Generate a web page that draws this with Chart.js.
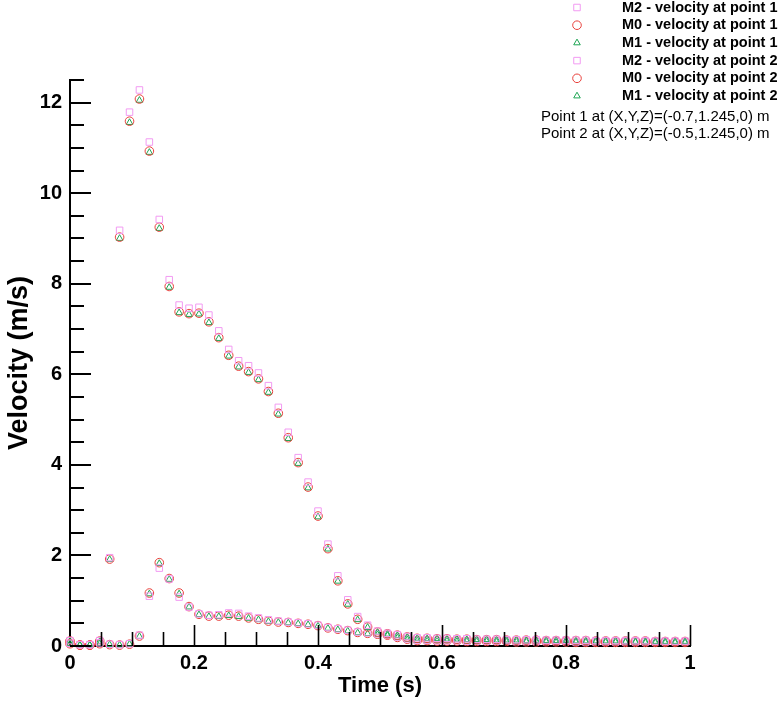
<!DOCTYPE html>
<html>
<head>
<meta charset="utf-8">
<title>Velocity at point 1 and 2</title>
<script src="https://cdn.jsdelivr.net/npm/chart.js"></script>
<style>
  html, body { margin: 0; padding: 0; background: #fff; }
  #wrap { width: 780px; height: 701px; }
</style>
</head>
<body>
<div id="wrap"><canvas id="chart" width="780" height="701"></canvas></div>
<script>
// ── Data ────────────────────────────────────────────────

const times = [
  0, 0.016, 0.032, 0.048, 0.064, 0.08, 0.096, 0.112, 0.128, 0.144,
  0.16, 0.176, 0.192, 0.208, 0.224, 0.24, 0.256, 0.272, 0.288, 0.304,
  0.32, 0.336, 0.352, 0.368, 0.384, 0.4, 0.416, 0.432, 0.448, 0.464,
  0.48, 0.496, 0.512, 0.528, 0.544, 0.56, 0.576, 0.592, 0.608, 0.624,
  0.64, 0.656, 0.672, 0.688, 0.704, 0.72, 0.736, 0.752, 0.768, 0.784,
  0.8, 0.816, 0.832, 0.848, 0.864, 0.88, 0.896, 0.912, 0.928, 0.944,
  0.96, 0.976, 0.992
];

// point 1
const m2Point1 = [
  0.06, 0.03, 0.03, 0.07, 0.04, 9.18, 11.79, 12.28, 11.13, 9.42,
  8.09, 7.53, 7.46, 7.48, 7.31, 6.96, 6.55, 6.30, 6.19, 6.03,
  5.75, 5.27, 4.72, 4.16, 3.62, 2.98, 2.25, 1.55, 1.02, 0.65,
  0.46, 0.33, 0.28, 0.25, 0.21, 0.18, 0.18, 0.17, 0.17, 0.16,
  0.16, 0.15, 0.15, 0.15, 0.14, 0.14, 0.14, 0.14, 0.13, 0.13,
  0.13, 0.13, 0.13, 0.12, 0.12, 0.12, 0.12, 0.12, 0.12, 0.11,
  0.11, 0.11, 0.11
];
const m0Point1 = [
  0.05, 0.02, 0.02, 0.05, 0.03, 9.03, 11.59, 12.08, 10.93, 9.25,
  7.94, 7.38, 7.34, 7.35, 7.16, 6.81, 6.42, 6.18, 6.06, 5.90,
  5.62, 5.14, 4.60, 4.05, 3.51, 2.87, 2.15, 1.44, 0.93, 0.59,
  0.42, 0.31, 0.27, 0.24, 0.20, 0.17, 0.17, 0.16, 0.16, 0.15,
  0.15, 0.14, 0.14, 0.14, 0.13, 0.13, 0.13, 0.13, 0.12, 0.12,
  0.12, 0.12, 0.12, 0.11, 0.11, 0.11, 0.11, 0.11, 0.11, 0.10,
  0.10, 0.10, 0.10
];
const m1Point1 = [
  0.05, 0.02, 0.02, 0.05, 0.03, 9.00, 11.56, 12.05, 10.90, 9.22,
  7.92, 7.36, 7.32, 7.33, 7.14, 6.79, 6.40, 6.16, 6.04, 5.88,
  5.60, 5.12, 4.58, 4.03, 3.49, 2.85, 2.14, 1.43, 0.92, 0.58,
  0.41, 0.30, 0.26, 0.23, 0.19, 0.17, 0.16, 0.16, 0.15, 0.15,
  0.14, 0.14, 0.14, 0.13, 0.13, 0.13, 0.12, 0.12, 0.12, 0.12,
  0.12, 0.11, 0.11, 0.11, 0.11, 0.11, 0.10, 0.10, 0.10, 0.10,
  0.10, 0.10, 0.10
];

// point 2
const m2Point2 = [
  0.12, 0.03, 0.03, 0.12, 1.95, 0.03, 0.05, 0.24, 1.10, 1.72,
  1.48, 1.08, 0.86, 0.71, 0.68, 0.69, 0.73, 0.72, 0.66, 0.62,
  0.58, 0.55, 0.53, 0.51, 0.49, 0.46, 0.41, 0.38, 0.35, 0.31,
  0.29, 0.27, 0.25, 0.20, 0.16, 0.13, 0.13, 0.12, 0.12, 0.12,
  0.11, 0.11, 0.11, 0.11, 0.11, 0.10, 0.10, 0.10, 0.10, 0.10,
  0.10, 0.09, 0.09, 0.09, 0.09, 0.09, 0.09, 0.09, 0.09, 0.09,
  0.09, 0.09, 0.09
];
const m0Point2 = [
  0.11, 0.02, 0.02, 0.11, 1.92, 0.02, 0.04, 0.22, 1.17, 1.84,
  1.49, 1.17, 0.87, 0.70, 0.66, 0.66, 0.68, 0.66, 0.62, 0.59,
  0.55, 0.53, 0.52, 0.50, 0.48, 0.45, 0.40, 0.37, 0.34, 0.30,
  0.28, 0.26, 0.24, 0.19, 0.15, 0.12, 0.12, 0.11, 0.11, 0.11,
  0.10, 0.10, 0.10, 0.10, 0.10, 0.09, 0.09, 0.09, 0.09, 0.09,
  0.09, 0.08, 0.08, 0.08, 0.08, 0.08, 0.08, 0.08, 0.08, 0.08,
  0.08, 0.08, 0.08
];
const m1Point2 = [
  0.11, 0.02, 0.02, 0.10, 1.91, 0.02, 0.04, 0.21, 1.15, 1.82,
  1.47, 1.15, 0.86, 0.69, 0.65, 0.65, 0.67, 0.65, 0.61, 0.58,
  0.54, 0.52, 0.51, 0.49, 0.47, 0.44, 0.39, 0.36, 0.33, 0.29,
  0.27, 0.25, 0.23, 0.18, 0.14, 0.12, 0.11, 0.11, 0.11, 0.10,
  0.10, 0.10, 0.10, 0.09, 0.09, 0.09, 0.09, 0.09, 0.09, 0.08,
  0.08, 0.08, 0.08, 0.08, 0.08, 0.08, 0.08, 0.08, 0.07, 0.07,
  0.07, 0.07, 0.07
];

const xTickLabels = ['0', '0.2', '0.4', '0.6', '0.8', '1'];
const yTickLabels = ['0', '2', '4', '6', '8', '10', '12'];
const notes = [
  'Point 1 at (X,Y,Z)=(-0.7,1.245,0) m',
  'Point 2 at (X,Y,Z)=(-0.5,1.245,0) m'
];

// ── Styles ──────────────────────────────────────────────

const FONT = "'Liberation Sans', Arial, Helvetica, sans-serif";
const STYLES = {
  M2: { pointStyle: 'rect', radius: 4.6, color: '#f29af2' },
  M0: { pointStyle: 'circle', radius: 4.3, color: '#e8413c' },
  M1: { pointStyle: 'triangle', radius: 3.8, color: '#1fa654' },
};

function series(label, model, ys) {
  const st = STYLES[model];
  return {
    label,
    data: times.map((t, i) => ({ x: t, y: ys[i] })),
    showLine: false,
    pointStyle: st.pointStyle,
    pointRadius: st.radius,
    pointBorderWidth: 1,
    borderColor: st.color,
    backgroundColor: 'rgba(0,0,0,0)',
    pointHoverRadius: st.radius,
    clip: false,
  };
}

// ── Plugins ─────────────────────────────────────────────

// inward major/minor ticks, like the original plot
const innerTicks = {
  id: 'innerTicks',
  afterDatasetsDraw(chart) {
    const { ctx, chartArea: a, scales: { x, y } } = chart;
    ctx.save();
    ctx.strokeStyle = '#000';
    ctx.lineWidth = 2;
    for (let k = 0; k <= 25; k++) {
      const py = Math.round(y.getPixelForValue(k * 0.5));
      const len = k % 4 === 0 ? 21 : 14;
      ctx.beginPath();
      ctx.moveTo(a.left, py);
      ctx.lineTo(a.left + len, py);
      ctx.stroke();
    }
    ctx.lineWidth = 1.6;
    for (let k = 1; k <= 20; k++) {
      const px = Math.round(x.getPixelForValue(k * 0.05)) + 0.5;
      const len = k % 4 === 0 ? 21 : 14;
      ctx.beginPath();
      ctx.moveTo(px, a.bottom);
      ctx.lineTo(px, a.bottom - len);
      ctx.stroke();
    }
    ctx.restore();
  }
};

// legend + notes in the top right corner
const cornerLegend = {
  id: 'cornerLegend',
  afterDraw(chart) {
    const { ctx } = chart;
    const draw = Chart.helpers && Chart.helpers.drawPoint;
    ctx.save();
    chart.data.datasets.forEach((ds, i) => {
      const cy = 7.5 + i * 17.7;
      ctx.strokeStyle = ds.borderColor;
      ctx.fillStyle = 'rgba(0,0,0,0)';
      ctx.lineWidth = 1;
      if (draw) {
        draw(ctx, { pointStyle: ds.pointStyle, radius: ds.pointRadius, borderWidth: 1, rotation: 0 }, 577, cy);
      }
      ctx.fillStyle = '#000';
      ctx.font = 'bold 14.5px ' + FONT;
      ctx.textAlign = 'left';
      ctx.textBaseline = 'middle';
      ctx.fillText(ds.label, 622, cy);
    });
    ctx.font = '15px ' + FONT;
    notes.forEach((n, i) => ctx.fillText(n, 541, 117 + i * 17));
    ctx.restore();
  }
};

// ── Chart ───────────────────────────────────────────────

new Chart(document.getElementById('chart'), {
  type: 'scatter',
  data: {
    datasets: [
      series('M2 - velocity at point 1', 'M2', m2Point1),
      series('M0 - velocity at point 1', 'M0', m0Point1),
      series('M1 - velocity at point 1', 'M1', m1Point1),
      series('M2 - velocity at point 2', 'M2', m2Point2),
      series('M0 - velocity at point 2', 'M0', m0Point2),
      series('M1 - velocity at point 2', 'M1', m1Point2),
    ],
  },
  options: {
    responsive: false,
    animation: false,
    layout: { padding: { left: 0, top: 80, right: 90, bottom: 0 } },
    plugins: { legend: { display: false }, tooltip: { enabled: false } },
    scales: {
      x: {
        type: 'linear',
        min: 0,
        max: 1,
        grid: { display: false, drawTicks: false },
        border: { display: true, color: '#000', width: 2 },
        ticks: {
          stepSize: 0.2,
          maxRotation: 0,
          color: '#000',
          padding: 5,
          font: { family: FONT, size: 20, weight: 'bold' },
          callback: (v) => xTickLabels[Math.round(v / 0.2)] ?? '',
        },
        title: {
          display: true,
          text: 'Time (s)',
          color: '#000',
          font: { family: FONT, size: 22, weight: 'bold' },
          padding: { top: 0, bottom: 2 },
        },
        afterFit: (s) => { s.height = 55; },
      },
      y: {
        type: 'linear',
        min: 0,
        max: 12.5,
        grid: { display: false, drawTicks: false },
        border: { display: true, color: '#000', width: 2 },
        ticks: {
          stepSize: 2,
          includeBounds: false,
          color: '#000',
          padding: 8,
          font: { family: FONT, size: 20, weight: 'bold' },
          callback: (v) => yTickLabels[Math.round(v / 2)] ?? '',
        },
        title: {
          display: true,
          text: 'Velocity (m/s)',
          color: '#000',
          font: { family: FONT, size: 27, weight: 'bold' },
          padding: { top: 3, bottom: 0 },
        },
        afterFit: (s) => { s.width = 70; },
      },
    },
  },
  plugins: [innerTicks, cornerLegend],
});
</script>
</body>
</html>
